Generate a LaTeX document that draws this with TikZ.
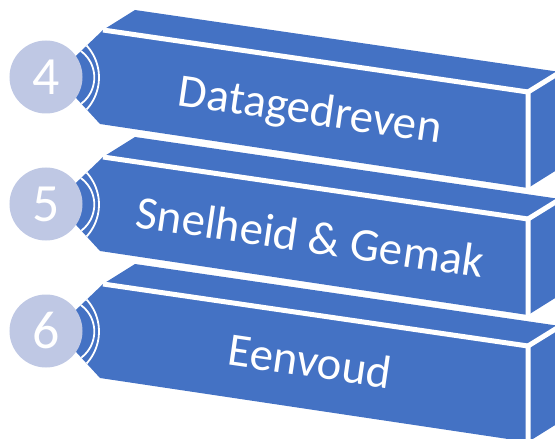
\documentclass[tikz,border=0pt]{standalone}
\usepackage{fontspec}
\setmainfont{Carlito}
\definecolor{barblue}{HTML}{4472C4}
\definecolor{circfill}{HTML}{BFC8E4}
\tikzset{
  face/.style={fill=barblue},
  sepline/.style={draw=white, line width=5bp},
  arcline/.style={draw=white, line width=1.8bp},
  numcirc/.style={circle, fill=circfill, minimum size=73bp, inner sep=0pt,
    text=white, font=\fontsize{54}{54}\selectfont},
  bartext/.style={text=white, font=\fontsize{47}{50}\selectfont, rotate=-8.3,
    inner sep=0pt, anchor=base},
}
\begin{document}
\begin{tikzpicture}[x=1bp,y=-1bp]
\useasboundingbox (0,0) rectangle (555,439);
\clip (0,0) rectangle (555,439);
\foreach \k/\n/\t/\b in {0/4/Datagedreven/124.2, 1/5/Snelheid \& Gemak/252.5, 2/6/Eenvoud/376.8} {
  \begin{scope}[yshift={-127bp*\k}]
    % top face
    \fill[face] (103,30) -- (528,92) -- (560,72) -- (135,10) -- cycle;
    % right face
    \fill[face] (528,92) -- (560,72) -- (560,168) -- (528,188) -- cycle;
    % front face with chamfered left end
    \fill[face] (103,30) -- (528,92) -- (528,188) -- (100,124) -- (70,91.4) -- (70,61.6) -- cycle;
    % white separations between faces
    \draw[sepline] (103,30) -- (528,92) -- (528,188);
    \draw[sepline] (528,92) -- (562,71);
    % double arcs
    \begin{scope}
      \clip (103,30) -- (528,92) -- (528,188) -- (100,124) -- (70,91.4) -- (70,61.6) -- cycle;
      \draw[arcline] plot[domain=-75:75, samples=40] ({61.6+32.7*cos(\x)},{77.5+32.7*sin(\x)});
      \draw[arcline] plot[domain=-75:75, samples=40] ({51.6+47.4*cos(\x)},{77.5+47.4*sin(\x)});
    \end{scope}
  \end{scope}
  \node[numcirc] (c\k) at (46,{77+127*\k}) {\n};
  \node[bartext] (t\k) at (308,\b) {\t};
}
\end{tikzpicture}
\end{document}
